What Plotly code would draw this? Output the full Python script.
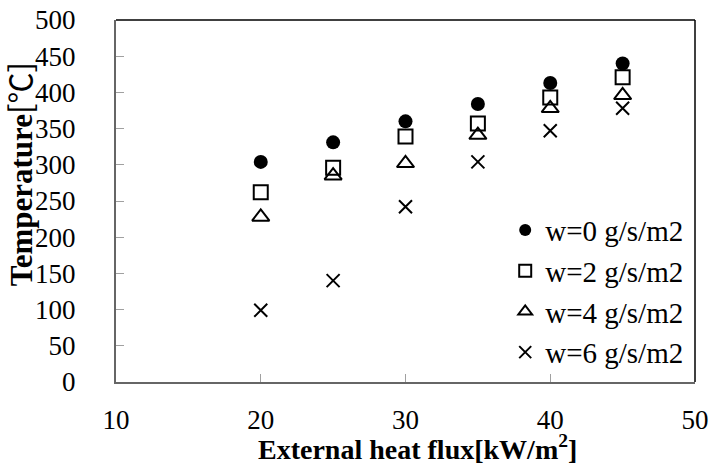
import plotly.graph_objects as go

heat_flux = [20, 25, 30, 35, 40, 45]
temp_w0 = [304, 331, 360, 384, 413, 440]
temp_w2 = [262, 296, 339, 357, 393, 421]
temp_w4 = [228, 285, 302, 341, 378, 396]
temp_w6 = [99, 140, 242, 304, 347, 378]
series_names = ["w=0 g/s/m2", "w=2 g/s/m2", "w=4 g/s/m2", "w=6 g/s/m2"]
x_title = "External heat flux[kW/m<sup>2</sup>]"
y_title_main = "Temperature"
y_title_unit = "[℃]"

FONT = "Liberation Serif"
FS = 27
AXIS_GRAY = "#666666"

fig = go.Figure()
styles = [
    dict(symbol="circle", size=14, color="black", line=dict(width=0, color="black")),
    dict(symbol="square-open", size=14, color="black", line=dict(width=2, color="black")),
    dict(symbol="triangle-up-open", size=15, color="black", line=dict(width=2, color="black")),
    dict(symbol="x-thin-open", size=13, color="black", line=dict(width=2, color="black")),
]
for name, vals, st in zip(series_names, [temp_w0, temp_w2, temp_w4, temp_w6], styles):
    fig.add_trace(go.Scatter(x=heat_flux, y=vals, mode="markers", name=name,
                             legendgroup=name, marker=st))

fig.update_layout(
    width=710, height=470,
    margin=dict(l=116, r=15, t=20, b=88, autoexpand=False),
    paper_bgcolor="white", plot_bgcolor="white",
    font=dict(family=FONT, size=FS, color="black"),
    showlegend=True,
    legend=dict(x=0.99, xanchor="right", y=0.012, yanchor="bottom",
                bgcolor="rgba(0,0,0,0)", font=dict(size=29, family=FONT),
                traceorder="grouped", tracegroupgap=0, itemwidth=30,
                itemsizing="constant"),
    shapes=[
        dict(type="line", xref="paper", yref="paper", x0=0, x1=1, y0=1, y1=1,
             line=dict(color="black", width=1.5)),
        dict(type="line", xref="paper", yref="paper", x0=1, x1=1, y0=0, y1=1,
             line=dict(color="black", width=1.5)),
    ],
    annotations=[
        dict(text="<b>" + x_title + "</b>", xref="paper", yref="paper",
             x=0.52, y=-0.18, xanchor="center", yanchor="middle",
             showarrow=False, font=dict(size=28, family=FONT)),
        dict(text="<b>" + y_title_main + "</b><span style='font-family:Noto Sans CJK JP'>"
             + y_title_unit + "</span>",
             xref="paper", yref="paper", x=-0.167, y=0.575, xanchor="center", yanchor="middle",
             textangle=-90, showarrow=False, font=dict(size=31, family=FONT)),
    ],
)
fig.update_xaxes(
    range=[10, 50], tickvals=[10, 20, 30, 40, 50],
    showgrid=False, zeroline=False, automargin=False,
    showline=True, linecolor=AXIS_GRAY, linewidth=2,
    ticks="inside", ticklen=8, tickcolor="#a0a0a0", tickwidth=1,
    ticklabelstandoff=13, ticklabeloverflow="allow",
)
fig.update_yaxes(
    range=[0, 500], tickvals=list(range(0, 501, 50)),
    showgrid=False, zeroline=False, automargin=False,
    showline=True, linecolor=AXIS_GRAY, linewidth=2,
    ticks="inside", ticklen=8, tickcolor="#a0a0a0", tickwidth=1,
    ticklabelstandoff=33, ticklabeloverflow="allow",
)

fig.write_html("out.html", config={"displayModeBar": False},
               post_script="document.body.style.margin='0';document.body.style.overflow='hidden';")
